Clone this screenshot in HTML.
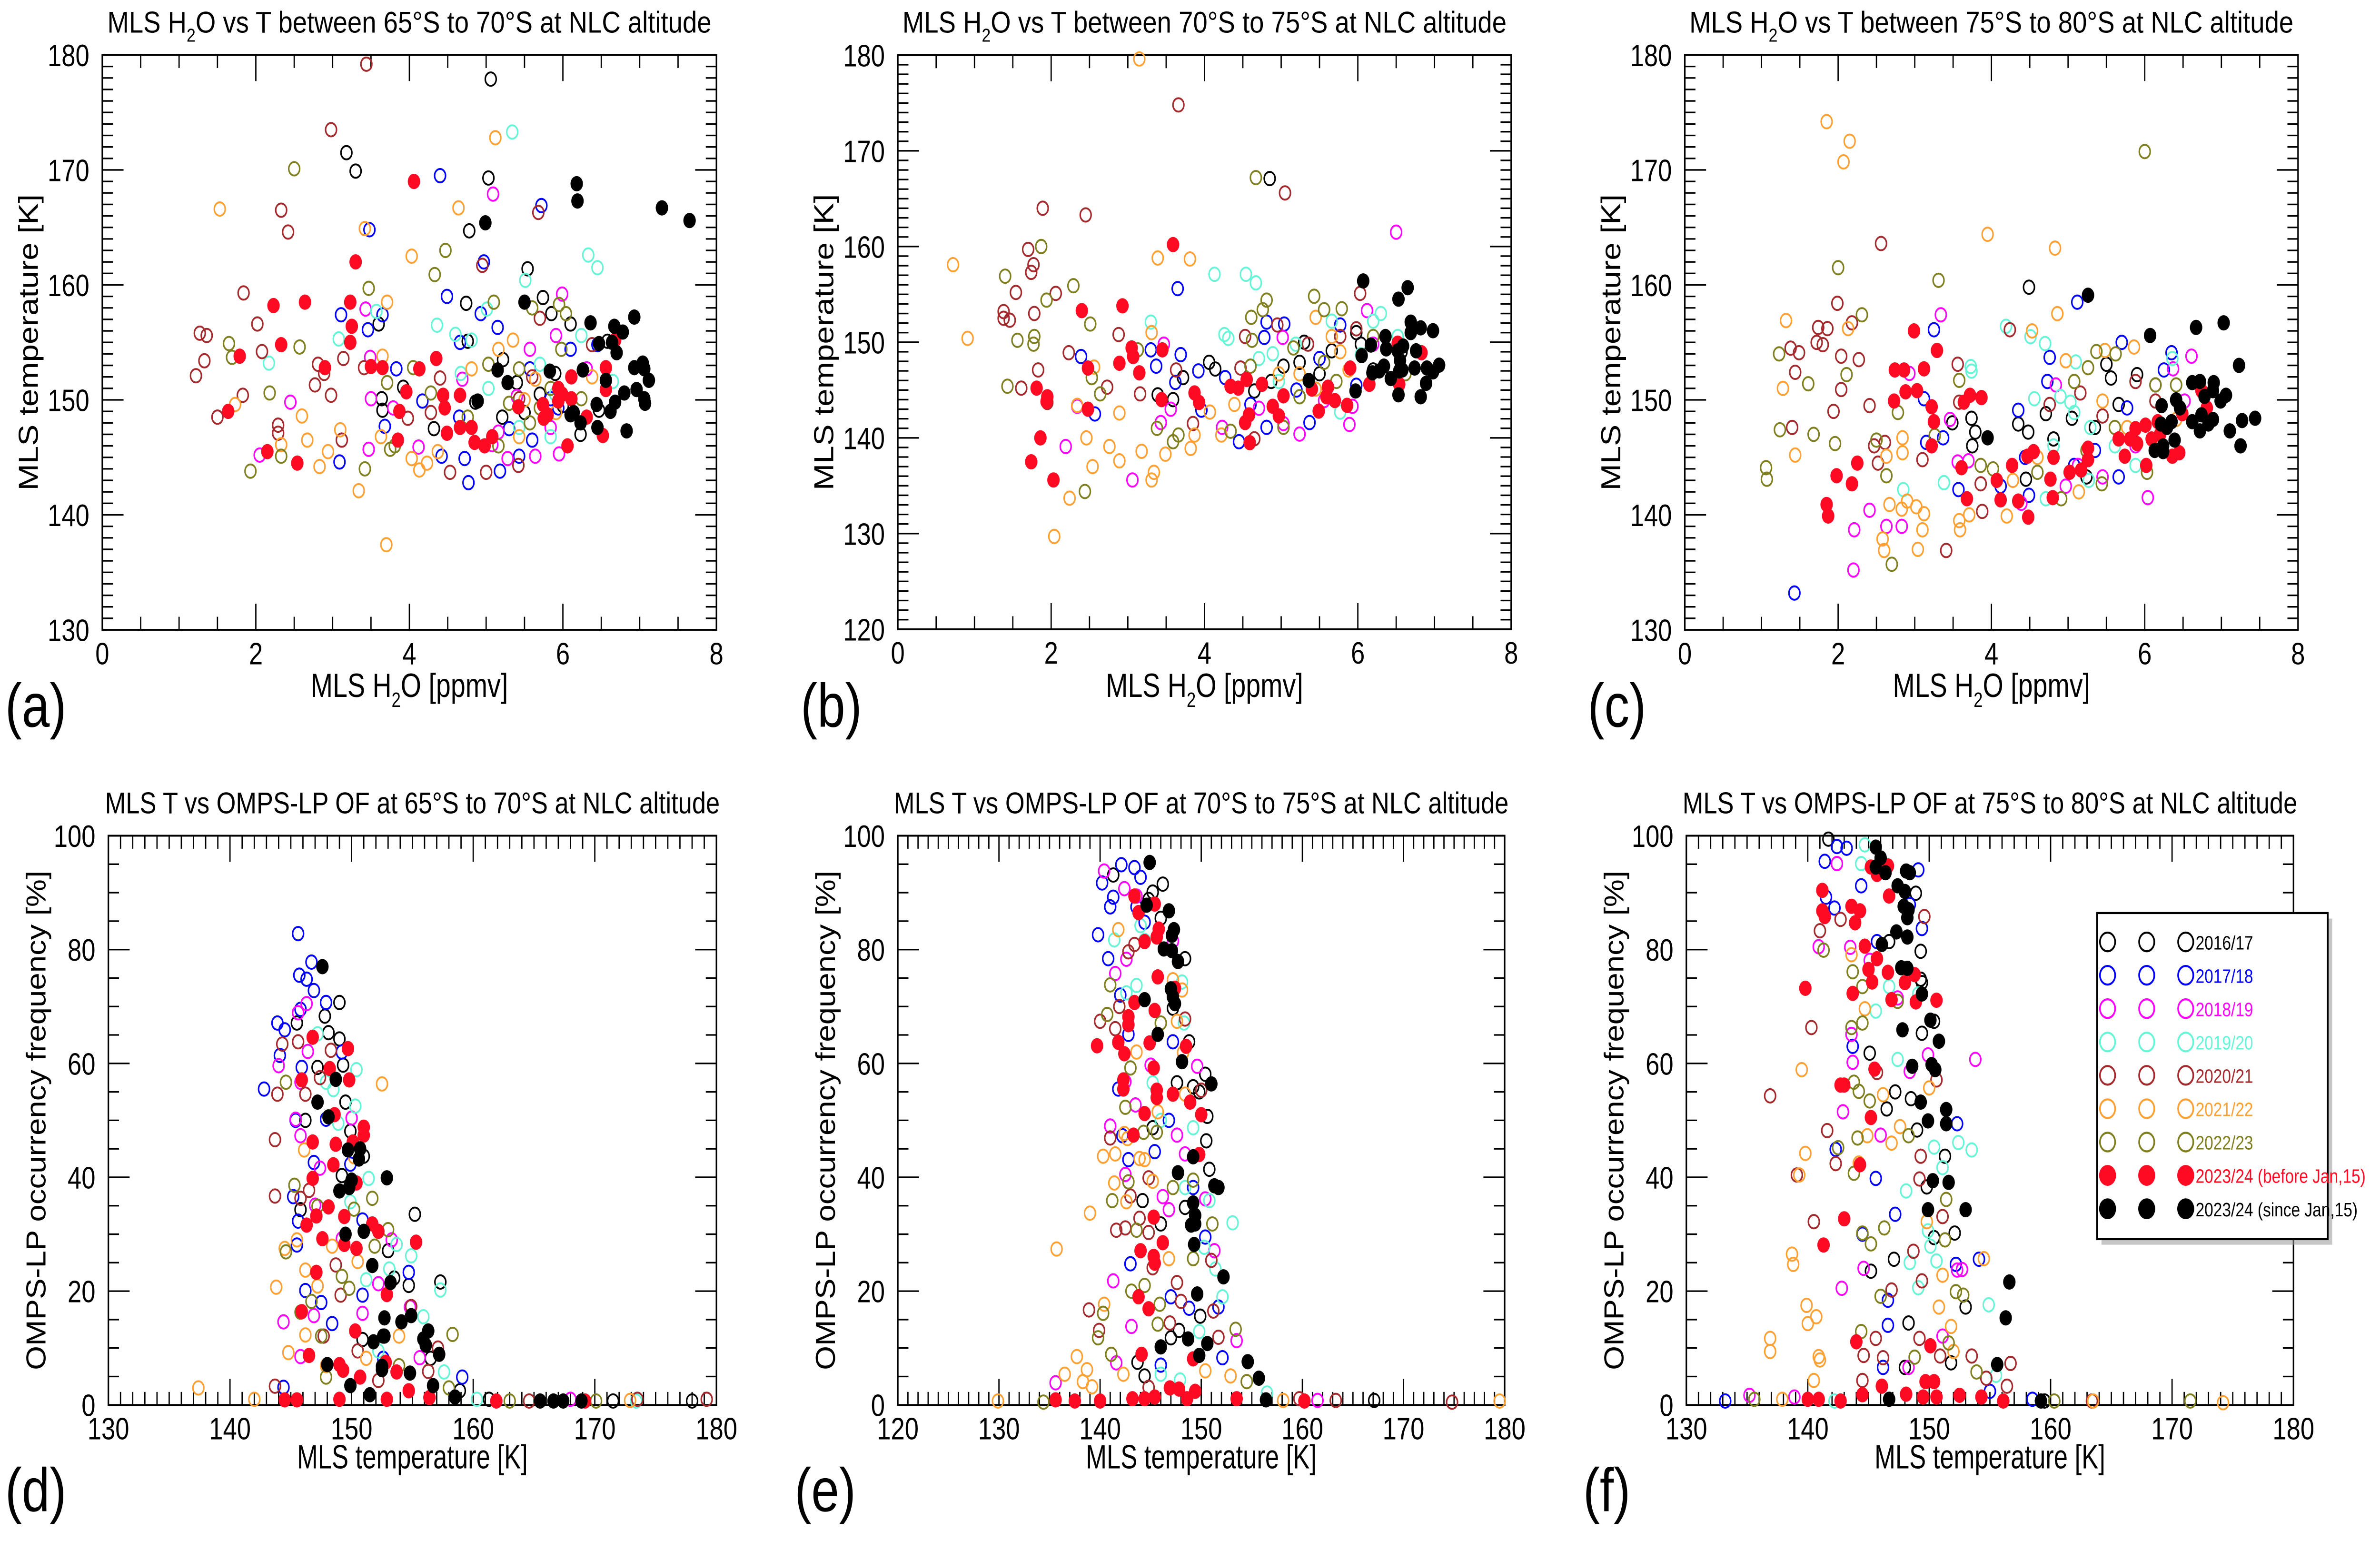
<!DOCTYPE html>
<html><head><meta charset="utf-8"><title>MLS H2O / T / OMPS-LP OF scatter</title>
<style>
html,body{margin:0;padding:0;background:#fff;overflow:hidden;width:100%;height:100%;}
svg{display:block;width:100vw;height:100vh;}
text{font-family:"Liberation Sans",Arial,sans-serif;fill:#000;}
</style></head>
<body>
<svg id="fig" xmlns="http://www.w3.org/2000/svg" viewBox="0 0 1568 827" preserveAspectRatio="none">
<rect x="0" y="0" width="1568" height="827" fill="#fff"/>
<g id="plots"></g>
<g id="legend">
  <rect x="1384.5" y="493" width="152" height="175" fill="#999" opacity="0.55"/>
  <rect x="1381.6" y="490" width="152" height="175" fill="#fff" stroke="#000" stroke-width="1.1"/>
  <g id="legend-rows"></g>
</g>
</svg>
<script>
// ---------- Panel (a): MLS H2O [ppmv] vs MLS T [K], 65-70S ----------
const a1617=[5.06,177.9,3.18,171.5,3.3,169.9,5.03,169.3,4.78,164.7,5.54,161.4,5.74,158.9,4.74,158.4,5.85,157.5,3.6,156.6,6.1,156.6,4.76,155.1,5.22,153.5,6.58,155.1,3.92,151.1,3.64,150.1,3.65,149.1,4.86,149.8,4.32,147.5,6.23,147,6.47,149.1,5.21,148.5,5.5,148.9,5.4,151.5,5.7,150.5,5.9,152.3,6.0,149.5];
const a1718=[4.4,169.5,5.72,166.9,3.48,164.8,4.97,162,4.49,159,4.93,157.5,3.11,157.4,3.65,157.4,3.46,156.1,5.15,156.3,4.66,155,3.83,152.7,4.17,149.9,3.68,147.7,3.09,144.6,4.42,145.1,4.77,142.8,4.72,144.9,5.18,143.8,4.65,148.5,5.43,145.1,5.94,149.3,5.57,152.7,6.1,154.4,5.84,150.1,6.45,154.8,5.3,147.5,5.6,146.5];
const a1819=[5.09,167.9,5.99,159.2,3.43,157.9,3.49,153.7,2.45,149.8,3.5,150.1,3.79,149.3,2.05,145.2,3.47,145.7,4.12,145.9,5.08,146.1,5.95,145.3,5.28,144.9,5.64,145.1,5.57,154.4,5.91,155.6,4.69,151.8,6.31,152.7,5.16,147.2,5.84,147.6,5.4,150.3];
const a1920=[5.34,173.3,6.33,162.6,6.45,161.5,5.51,160.4,5.01,157.9,3.57,157.7,3.08,155.3,2.17,153.2,4.6,155.7,4.36,156.5,4.81,155.2,4.67,152.3,6.24,155.6,6.65,151.6,5.7,153.1,5.43,147.6,5.84,146.8,5.03,151,5.9,150.5];
const a2021=[3.44,179.2,2.98,173.5,2.33,166.5,2.42,164.6,5.68,166.3,4.95,161.7,1.84,159.3,1.27,155.8,1.36,155.6,2.02,156.6,3.14,153.6,1.33,153.4,1.22,152.1,2.08,154.2,2.81,153.1,2.89,152.3,3.41,152.8,1.83,150.4,2.77,151.3,2.98,150.4,1.5,148.5,2.29,147.8,2.29,147.1,3.12,146.5,4.4,151.9,3.98,148.4,5.0,143.7,4.53,143.7,5.42,144.3,5.7,157.1,6.38,154.8,4.28,148.9,5.43,150.1,5.6,152];
const a2122=[1.53,166.6,5.12,172.8,4.64,166.7,3.42,164.9,4.03,162.5,3.71,158.5,3.65,153.8,4.81,152.7,1.73,149.6,2.6,148.6,2.67,146.5,2.33,146.1,3.1,147.4,2.94,145.5,2.83,144.2,3.63,146.8,4.03,144.9,4.13,143.9,4.23,144.5,3.34,142.1,3.7,137.4,4.37,145.5,5.35,155.2,5.16,154.4,5.64,151.8,5.91,148.9,6.38,152,5.43,146.8,5.5,150];
const a2223=[2.5,170.1,4.47,163,4.33,160.9,3.47,159.7,5.1,158.5,5.6,158,1.65,154.9,1.69,153.7,2.57,154.6,2.18,150.6,4.05,152.8,3.71,151.5,4.28,150.6,3.75,145.7,3.81,146,3.42,144,2.33,145.1,1.93,143.8,5.95,158.3,6.04,157.5,5.03,153.1,5.3,149.7,5.57,148,5.84,151,6.24,150.1,5.16,146,4.76,148.5,5.43,152.7,5.98,154.4,5.7,149.3];
const a2324b=[4.06,169,3.3,162,2.23,158.2,2.64,158.5,3.23,158.5,3.25,156.4,2.33,154.8,3.23,155,1.79,153.8,2.9,152.8,3.5,152.9,3.65,152.8,4.13,152.7,4.35,153.6,1.64,149,2.15,145.5,2.54,144.5,3.96,150.7,3.87,149,3.85,146.5,4.44,150.4,4.46,149.3,4.49,147.1,4.66,150.4,4.66,147.6,4.81,147.6,4.85,146.3,4.98,146,5.08,146.8,5.15,152.6,5.42,149.4,5.74,149.6,5.75,148.4,5.94,151,5.94,149.9,5.99,150.5,6.06,146,6.11,152,6.31,148.5,6.52,146.9,6.56,150.9,6.56,152.8,6.68,155.2,5.8,148.7,6.11,150.1];
const a2324s=[4.99,165.4,6.18,168.8,6.19,167.3,7.29,166.7,7.65,165.6,5.5,158.5,6.36,156.7,6.93,157.2,6.67,156.4,6.78,155.9,6.47,154.9,6.64,155,6.7,154.1,5.15,152.6,5.28,151.5,5.83,152.5,6.26,152.6,6.56,151.7,6.93,152.8,7.04,153.2,7.06,152.7,7.12,151.7,6.8,150.6,6.96,150.9,7.06,150.1,7.07,149.7,6.68,149.8,6.44,149.6,6.62,149,6.1,148.7,6.23,148,6.14,148.9,6.45,147.6,6.83,147.3,4.89,149.9];

// ---------- Panel (b): 70-75S ----------
const b1617=[4.85,167.1,4.06,147.9,4.14,147.2,3.72,146.3,3.39,144.5,3.59,144,4.65,144.9,4.87,145.9,5.03,147.5,5.24,147.9,5.66,149.1,5.98,151,6.04,149.8,6.57,149,5.5,146.7,6.2,147.1,5.3,150];
const b1718=[3.65,155.6,3.3,149.2,3.37,147.5,3.69,148.7,3.62,145.8,2.57,142.5,2.39,148.5,3.92,147,4.27,146.3,4.45,139.6,4.81,152.1,5.04,151.9,4.78,150.5,5.37,141.6,5.77,151.8,4.6,143.5,4.81,141.1,5.5,148.3,5.98,145.5,3.96,142.9,5.2,145];
const b1819=[6.5,161.5,6.12,153.3,5.02,150.5,3.47,149.8,2.19,139.1,3.06,135.6,3.43,141.6,3.56,143,5.24,140.4,5.89,141.4,5.93,143.3,4.23,141.1,4.71,143.1,5.56,143.9,6.2,149.8,5.03,141.5,2.34,143.3];
const b1920=[4.13,157.1,4.54,157.1,4.67,156.2,3.3,152.1,4.26,150.8,4.31,150.4,6.3,153,6.2,152.2,4.71,148.3,4.89,148.8,5.19,149.8,5.66,152.2,6.04,148.7,5.4,145.1,5.77,142.7,6.52,150.6,4.97,145.9,5.24,144.3];
const b2021=[3.66,174.8,5.05,165.6,1.89,164,2.45,163.3,1.7,159.7,1.77,158.1,1.74,157.3,1.54,155.2,2.06,155.1,1.38,153.2,1.38,152.5,1.46,152.3,1.78,153,2.88,150.8,2.23,148.9,1.83,147.1,1.61,145.2,1.95,143.7,2.73,145.3,3.16,144.6,3.63,147.1,4.53,150.6,6.03,155.1,4.47,147.3,3.85,141.5,4.65,139.9,4.95,151.8,5.98,151.4,5.77,150.6,5.35,149.8];
const b2122=[3.15,179.6,0.72,158.1,0.91,150.4,3.39,158.8,3.81,158.7,3.31,151,2.56,147.4,2.34,143.4,2.89,142.6,2.46,140,2.76,139.1,2.54,137,2.89,137.6,3.18,138.6,3.34,136.4,3.31,135.6,3.49,138.3,3.87,140.3,3.82,138.9,2.24,133.7,2.04,129.7,4.22,140.3,4.39,143.5,4.07,142.7,5.45,152.6,5.66,150.6,5.77,149,5.24,146.7,5.88,147.1,4.97,146.7,5.45,145.1];
const b2223=[4.67,167.2,1.87,160,1.4,156.9,2.29,155.9,1.94,154.4,2.51,151.9,1.78,150.6,1.77,149.8,1.56,150.2,1.43,145.4,2.53,146.3,2.64,144.6,2.44,134.4,3.38,141,3.59,139.6,3.66,140.3,4.81,154.4,4.76,153.4,4.61,152.6,4.62,150.2,5.43,154.8,5.56,153.4,5.79,153.5,4.6,147.5,5.16,149.4,5.56,147.9,5.72,145.9,5.24,144.3,5.03,141.1,4.34,140.7,6.2,150.6,6.62,146.7,3.13,149.2];
const b2324b=[3.59,160.2,2.93,153.8,2.4,153.3,3.05,149.4,3.07,148.5,3.45,149.2,2.89,147.8,2.48,147.3,3.15,146.8,1.81,145.2,1.95,144.3,1.94,143.8,2.48,143,1.86,140,1.74,137.5,2.03,135.6,3.44,144,3.87,144.7,3.93,143.7,4.34,145.4,4.44,145.2,4.55,146.1,4.75,145.6,4.53,141.6,4.59,139.5,4.58,142.4,4.89,143.3,4.97,142.3,5.03,144.4,5.4,145.1,5.49,142.8,5.61,145.3,5.7,143.9,5.86,143.4,5.9,147.3,6.15,145.6,6.52,149.9,6.54,145.6,6.83,148.9,5.59,144.3];
const b2324s=[6.07,156.4,6.65,155.7,6.53,154.5,6.69,152.1,6.69,151,6.82,151.5,6.98,151.2,6.36,150.6,6.17,149.7,6.37,149.3,6.52,149.1,6.59,149.6,6.76,149.1,6.05,148.6,6.55,148.1,7.06,147.6,6.9,147.3,6.74,147.3,6.98,146.9,6.54,147,6.58,147.1,6.34,147.5,6.28,147,6.19,146.8,6.43,146.2,5.36,146,5.97,144.9,6.89,145.7,6.53,144.5,6.82,144.3];

// ---------- Panel (c): 75-80S ----------
const c1617=[4.49,159.8,5.5,153.1,3.74,148.4,3.49,148,3.79,147.2,4.35,147.9,4.48,147.2,4.45,143.1,4.71,148.8,5.05,148.4,5.35,147.6,5.9,152.2,5.56,151.9,6.14,151.3,4.81,146.6,3.75,146,5.24,143.3,5.66,149.6];
const c1718=[1.43,133.2,5.12,158.5,3.25,156.1,5.7,155,4.76,153.7,6.35,154.1,4.73,151.6,3.12,150.1,3.37,146.7,3.15,146.3,4.35,149.1,3.57,142.2,4.12,142.5,4.49,141.7,5.66,143.3,6.25,152.6,5.35,145.6,5.08,144.3,5.77,149.3,4.44,145];
const c1819=[3.34,157.4,2.93,152.3,6.61,153.8,6.37,152.7,4.84,151.3,3.46,148.3,3.56,144.6,3.7,144.7,2.41,140.4,2.21,138.7,2.63,139,2.83,139,2.2,135.2,6.04,141.5,4.97,142.5,5.45,143.3,5.88,146,5.13,144.3,4.39,141,6.52,149.9];
const c1920=[4.19,156.4,4.51,155.5,4.7,154.9,3.73,152.9,3.74,152.5,5.1,153.3,4.56,150.1,4.9,150.3,5.03,149.8,6.36,153.6,2.85,142.2,3.38,142.8,4.71,141.4,5.29,147.6,5.08,148.9,4.81,146,5.61,146,5.88,144.3,5.27,143];
const c2021=[2.56,163.6,1.99,158.4,1.74,156.3,1.86,156.2,2.18,156.7,1.38,154.5,1.49,154.1,1.72,155,1.8,154.8,1.44,152.4,2.04,153.8,2.27,153.5,2.04,150.9,1.94,149,2.41,149.5,1.4,147.6,2.47,146,2.61,146.3,2.52,144.5,3.1,144.8,3.56,153.1,3.58,149.8,4.24,156.1,3.41,136.9,3.88,140.3,4.76,149.6,5.88,151.6,5.16,150.6,5.45,148.6,3.86,142.7,6.14,149.9];
const c2122=[1.85,174.2,2.15,172.5,2.07,170.7,3.95,164.4,4.83,163.2,1.32,156.9,2.13,156.2,1.28,151,4.86,157.5,4.53,156,5.86,154.6,4.97,153.4,5.48,154.3,1.44,145.2,2.84,146.7,2.84,145.4,2.63,145.1,2.67,140.9,2.83,140.5,2.9,141.2,3.02,140.7,3.12,140.1,3.1,138.7,2.58,137.9,2.6,136.9,3.04,137,3.58,139.5,3.59,138.7,3.71,140,4.2,139.9,4.28,143,5.14,142,5.45,149.9,5.77,147.6,6.41,148.3,4.6,145];
const c2223=[6,171.6,2,161.5,3.31,160.4,2.31,157.4,1.23,154,2.11,152.2,1.61,151.4,1.24,147.4,1.68,147,1.96,146.2,1.06,144.1,1.07,143.1,2.63,143.4,2.7,135.7,2.78,148.9,2.5,146.5,3.26,146.9,3.58,151.7,5.37,154.2,5.62,154,5.26,152.8,5.08,151.6,3.86,144.3,4.02,144,4.6,143.7,4.91,141.4,5.44,142.7,6.03,143.7,6.14,151.3,6.41,151.3,5.61,147.6,5.24,145.6];
const c2324b=[2.99,156,3.29,154.3,3.12,152.7,2.74,152.6,2.86,152.6,2.88,150.7,3.03,150.8,2.73,149.9,3.22,149.4,3.72,150.4,3.64,149.8,3.87,150.2,3.25,148.1,3.22,146,2.25,144.5,1.98,143.4,2.18,142.7,1.85,140.9,1.87,139.9,3.61,144.1,3.68,141.4,4.07,143,4.12,141.3,4.27,144.3,4.35,141.2,4.48,139.8,4.47,145.1,4.55,145.5,4.77,143.1,4.8,141.5,4.81,145,5.02,143.7,5.17,143.9,5.26,144.8,5.26,145.8,5.66,146.6,5.74,145.1,5.81,146.6,5.88,147.5,5.9,146.2,6.01,147.8,6.02,144.3,6.09,146.6,6.17,148.1,6.2,147,6.36,145.1,6.45,145.4,6.49,148.8,6.74,150.8,6.81,149.3];
const c2324s=[5.26,159.1,6.07,155.6,6.67,156.3,7.03,156.7,7.23,153,6.62,151.5,6.72,151.6,6.9,151.5,6.89,150.8,6.78,150.3,7.06,150.4,6.99,149.9,6.41,150,6.46,149.3,6.22,149.5,6.74,148.7,6.62,148.1,6.83,147.9,6.89,148.3,6.72,147.3,7.27,148.2,7.44,148.4,7.11,147.3,7.25,146,6.21,147.9,6.29,147.6,6.35,148.1,6.39,146.5,6.24,146,6.13,145.6,6.24,145.5,3.95,146.7];

// ---------- Panel (d): MLS T [K] vs OMPS-LP OF [%], 65-70S ----------
const d1617=[149,70.7,147.8,68.3,145.5,67.1,148.1,65.4,149,64.3,149.3,59.7,149.5,53.2,146.2,50,149.9,48.1,151,43.7,149.2,40.3,145.8,34.3,155.2,33.5,153,27.1,154.7,21,157.3,21.6,153.5,22.3,156.5,8.2,158.9,2.5,171.5,0.7,178,0.7,161.3,1,150.9,11.5,147.2,59.3,152.6,12.1];
const d1718=[145.6,82.8,146.7,77.8,145.7,75.5,146.3,74.8,146.9,72.8,147.9,70.7,145.8,69.5,143.9,67.1,144.5,65.9,144.1,61.4,145.9,59.3,142.8,55.5,145.4,50,146.9,42.6,145.2,36.6,145.6,32.3,145.5,28.1,146.2,20.1,147.5,18,148.4,14.3,154.7,23.3,159.1,4.9,144.4,3.1,150.9,32.5,149.2,62,150.9,19.3,152.6,8.2,147.9,50.2,149.9,42.3];
const d1819=[146.3,70.5,145.6,68.9,144,59.6,146.4,62.1,145.8,56.7,145.4,50.2,145.8,47.3,147.4,41.6,147,35.1,144.4,14.6,145.8,8.5,146.9,15.7,150,50.4,152.2,21.3,154.8,17.2,155.6,8.3,153.3,29,168,1,149.2,29.2,150.9,16.1];
const d1920=[147.2,65.2,150.4,58.9,150.3,52.5,148.9,49.5,151.4,39.8,153.7,28.2,154.9,26.2,153.1,23.9,157.3,20.2,155.9,15.5,157.6,5.8,160.3,1,147.9,56.7,148.5,55.4,149.9,35.7,151.2,22,152.2,9.5,173.4,0.7];
const d2021=[144.3,63.4,143.9,54.6,145.6,63.8,147.4,57.5,146.2,54.6,143.7,46.6,143.7,36.7,145.8,36.3,146.5,37.7,148.3,62.3,148.7,24.6,149.1,19.3,147.7,12.1,154.9,17.3,157.1,10,156.3,5.9,143.7,3.3,173.5,1,179.2,1,164.6,0.7,150.5,9.5,152.2,4.3];
const d2122=[152.5,56.4,146.1,44.8,143.8,20.7,146.2,23.7,147.2,20.9,144.5,27.5,145.5,29,146.2,12.3,144.8,9.2,137.4,3,142,1,150.2,43.6,150.5,25.2,148.4,27.9,153.9,12.1,172.9,0.8,147.9,6.9,151.2,8.2];
const d2223=[144.6,56.7,144.6,26.9,145.3,38.6,147.2,34.9,145.8,16.3,146.7,18.2,147.5,12.1,149.8,20.5,149.2,22.6,153,30.8,151.7,36.3,158.3,12.4,158,3,163,0.7,170.1,0.7,150.2,34.4,147.9,4.9,153.9,6.9,151.9,27.9];
const d2324b=[146.8,64.6,149.7,62.6,148.2,59.1,145.9,57.1,149.8,57.1,148.6,51,151,48.8,151,47.4,146.8,46.2,148.7,45.8,150.1,46.2,148.5,42.2,146.8,39.8,150.4,39,148.1,34.8,147.1,33.2,149.4,33.1,146.3,31.6,151.7,31.8,152.2,30.5,147.6,29.2,149.4,28.2,150.4,27.5,155.3,28.6,147.1,23.3,152.9,19.4,145.9,16.4,150.3,13,146.5,8.7,149,7.1,149.3,6.1,150.7,4.9,152.8,7.5,153.7,5.8,154.7,2.5,144.5,0.9,145.5,0.9,149,1,152.9,1,156.4,1.3,161.9,0.7,169.2,0.7];
const d2324s=[147.6,77,148.7,57.2,147.2,53.2,148.1,50.6,149.7,44.8,150.7,45,150.6,43.2,152.9,39.9,150,39.5,149.8,38.2,149,37.6,149.5,30,151,30.5,151.7,24.5,153.2,21.5,154.9,15.7,152.7,15.3,154.1,14.6,156.3,13,155.9,11.6,156.1,10.5,157.2,8.9,151.8,11.1,152.7,12.1,148,7.1,152.5,6.8,152.5,6.2,154.8,5.6,149.9,3.4,156.7,3.4,151.5,1.8,158.5,1.4,165.5,0.7,166.6,0.7,167.4,0.7,168.9,0.7];

// ---------- Panel (e): 70-75S ----------
const e1617=[141.3,93.1,146.2,91.5,145.2,90.1,144.8,88.8,146,85.5,148.4,78.4,147.2,69.7,148.8,63.8,150.4,58.1,149.2,55.9,149.8,55,150.6,50.7,150.5,46.4,150.8,41.4,144.2,35.9,146,31.8,148.4,34.7,149.9,15.6,147.8,13.1,147,11.8,143.7,7.5,144.4,5.1,167.1,0.8,145.2,48.7,147.6,56.6];
const e1718=[142.1,94.9,143.4,94.4,140.2,91.7,141.3,89.2,141,87.5,144,92.7,143.6,87.5,139.8,82.6,140.8,78.4,142,72,142.8,65.1,147.2,63.8,141.8,55.5,142.2,47.3,142.8,43.1,145.4,44.5,143,24.8,147,19,148.8,17,151.7,17.2,146,7,152.1,8.3,150.4,29.5,149.2,38.2,144.4,84.8,146.8,50];
const e1819=[140.4,93.8,142.4,90.7,143.6,89.4,147.2,81.5,141.5,75.8,142.6,78.3,142.5,56.8,145,59.7,149.6,59.5,141,49,143.5,52.7,142.5,40.5,146.2,36.6,146.8,34.3,150.4,36.2,151.3,27.1,141.3,21.8,143.1,13.8,141.6,7.4,135.6,3.9,153.5,11.3,161.5,0.8,148.4,44.1,147.6,47.4];
const e1920=[141.4,81.7,144,84.2,144.4,81.6,148.1,74.3,148.3,67.1,142.6,72.4,143.6,73.7,146,50,149.2,48.7,150.8,35.9,153.1,32,150.3,27.7,151.4,23.9,152.1,19,149.8,12.9,146,5.4,147.9,4.4,156.5,2.1,145.2,56.6,148.4,38.2];
const e2021=[140,67.4,141.9,70,141.5,66.1,142.8,79.6,143.4,80.9,141,46.9,144.8,39.9,143,36.7,141.6,30.7,142.5,31.1,143.9,32.8,144.8,30.3,145.2,24.1,147.6,21.5,148,18.2,146.9,14.4,151,25.4,151.2,16.5,151.7,11.9,138.9,16.7,139.9,13.1,144.8,3.1,159.7,1.1,163.3,0.8,174.8,0.5,150,55.3,148.4,67.8];
const e2122=[141.8,83.5,147.2,74.7,148.1,72.9,147.6,67.4,143.6,62,148.2,61.9,148.4,54.6,145.7,51.5,142.4,47.7,142.7,46.8,140.3,43.7,141.5,44.1,143.9,43.3,144.4,43.1,141.4,39,142.6,35.7,145.2,39.3,139,33.7,135.7,27.4,140.4,17.7,137.7,8.5,136.5,5.4,138.7,6.2,138.3,4.1,139.2,3.2,142.3,5.4,146.8,25.7,150.4,6,152.9,5.1,129.9,0.7,179.5,0.7,158.1,0.8];
const e2223=[140.7,68.6,141,73.8,143,59.2,142.5,52.3,144.3,47.9,145.6,47.9,142.8,39.2,141.2,35.9,143.6,30.7,144.4,21,143.1,20,145.9,17.7,145.7,14.2,140.3,16.1,139.8,11.8,141.1,8.9,153.4,13.3,151.1,31.8,149.2,25.7,149.2,39.5,154.5,4.1,134.4,0.5,147.2,38.2,146,67.1];
const e2324b=[143.4,89.4,143.8,86.5,145.4,88,145.8,83.6,145.6,82.2,144.4,81.4,145.7,75.2,147.4,73.2,143.4,70.7,145.4,69.3,142.8,68.2,142.8,66.8,139.7,63.1,141.8,63.7,142.4,61.7,144.9,63.6,148.5,63,145.3,59.2,142.3,57.1,142.3,55.5,145.6,55.3,145.6,54,147.2,54.6,148.9,53.2,144.4,51.2,150,51,143.3,47.4,149.8,44,145.3,33,146.2,28.5,144,27.1,145.3,26.1,145.4,24.9,143.8,19,144.8,16.9,144.1,8.9,149.2,8.1,149.4,2.4,146.9,3,147.8,2.8,135.6,0.9,137.5,0.7,140,0.7,143.2,1.1,144.4,1.1,145.4,1.4,148.6,1.1,153.5,1.1,160.2,0.7];
const e2324s=[144.9,95.3,144.6,87.8,146.8,86.8,147.3,83.5,147.1,82.5,146.3,80.1,147.1,79.8,147.7,77.9,147,73.1,147.2,71.7,147.4,70.5,144.4,71.2,145.7,65.1,148.1,60.3,151,56.4,149.2,43.6,147.7,40.8,151.3,38.5,151.7,38.2,149.2,35.5,149.4,33.3,149,31.6,149.4,31.8,149.3,28.2,152.2,22.5,149.6,19.5,146,10.2,148.7,11.6,150.6,10.8,149.8,8.7,154.6,7.6,155.7,4.7,156.4,0.9];

// ---------- Panel (f): 75-80S ----------
const f1617=[141.7,99.4,148.9,89.9,149.3,79.7,149.3,74.8,149.4,74.2,150.4,67.4,149.4,65.3,145.1,61.8,147.2,55,148.5,53.8,146.5,52,149,48.3,151.3,43.7,149.8,38.3,150.4,29.4,152.1,30.2,147.1,25.6,145.2,23.5,153,17.2,148.3,14.4,148,6.6,151.8,7.4,159.5,0.7,146.7,81.4];
const f1718=[142.4,98.1,143.2,97.8,141.4,95.5,149.1,94,142.2,87.3,141.5,89.2,148.4,87.9,149.4,83.7,143.7,63,142.3,44.9,145.6,39.8,147.2,33.5,144.5,30,154.1,25.6,152.2,24.7,146.6,18.4,146.6,14,146.2,6.6,152.3,49.4,133.2,0.7,155,2.4,158.5,1,145.7,81.4,144.4,91.2];
const f1819=[140.9,80.5,143.5,80.4,143.6,65.1,143.7,60.2,142.9,51.5,146,47.4,148.4,58.6,149.9,61.5,153.8,60.7,144.6,24,152.3,23.7,152.7,23.8,142.8,20.5,151.1,12.1,148.3,6.6,135.2,1.7,138.9,1.4,142.4,95.1,145.1,78.1,147.4,71.5];
const f1920=[144.7,98.4,144.4,95.1,145.6,69.2,147.4,60.7,150.4,45.3,152.4,46.1,153.5,44.8,151.1,41.7,148.1,37.6,149.9,30.6,150.1,27.9,148.4,25,150.6,25.3,149.1,20.6,154.9,17.6,155.5,5.2,142.2,0.7,146.7,73.5,149.1,72.2];
const f2021=[149.6,85.8,141,83.3,140.3,66.3,136.9,54.3,141.6,48.2,142.3,42.4,139.1,40.4,149.3,43.7,149.2,39.7,151.1,33.1,140.5,32.2,148.7,27,149.4,21.8,146.9,20.2,145.6,11.7,149.2,11.7,144.6,8.7,146.2,8.3,150.9,8.6,153.5,8.6,156.7,7.3,154.7,4.7,156.4,3.3,144.5,4.3,163.4,0.7,145.7,58.4,142.7,85.3,150.6,57.1];
const f2122=[139.5,58.9,139.8,44.2,139.3,40.4,144.2,42.5,144.9,47.3,146.2,54.5,147.6,48.9,146.9,46,150,55.7,149.8,32.2,151.1,22.8,154.5,25.7,138.7,26.5,138.8,24.7,139.9,17.5,140.7,15.5,140,14.3,136.9,11.7,136.9,9.4,140.9,8.5,141,7.9,140.5,4.3,150.8,17.2,151.8,13.8,152,9.4,143.6,79.1,144.7,69.6,137.9,1,174.2,0.4,163.5,0.7];
const f2223=[141.3,79.9,143.7,76.1,144.5,73.5,143.6,66.3,144.5,67.1,143.8,56.7,144.2,55.1,145.1,53.4,144.1,46.9,143.8,40.7,148.3,47.3,142.5,45.2,146.3,31.1,144.5,30.2,145.2,28.3,151.3,29,146,19.1,152.2,19.9,152.8,19.3,144.4,12.9,151.6,10.9,148.8,8.4,153.9,5.8,135.6,1,160.3,0.7,171.5,0.7,151.4,36.1,147.4,70.9];
const f2324b=[145.2,94.5,146.6,94.7,145.7,93.2,141.2,90.4,141.2,86.8,141.4,85.8,143.6,87.6,144.3,86.8,143.9,84.7,146.7,89.4,144.7,80.6,145.7,78.4,145,76.5,146.6,76,148.8,75.6,148,74.2,145.3,74.3,139.8,73.2,143.7,72.3,146.9,71.2,148.9,70.8,150.6,71.1,145.5,59,142.7,56.2,143,56.2,145.2,50.5,144.3,42.2,143,32.7,141.3,28.1,144,11.1,150.1,10.4,146.1,3.3,149.7,4.1,150.4,4.1,144.5,1.8,148.1,1.9,140,1,140.9,1,142.7,0.7,149.5,1.4,150.6,1.4,152.5,1.7,154.3,1.4,156.1,0.7];
const f2324s=[145.6,98,146,96.1,145.6,94.5,146.4,93.5,148.1,93.8,148.4,93.5,147.4,91.2,148,90.2,147.9,87.6,148.3,87,148.2,85.6,147.3,83.1,148.2,82.2,146.1,80.9,147.7,76.8,148.2,76.7,149.4,72.2,150.1,67.6,150.8,63.9,147.8,65.9,148.6,59.5,150.2,59.8,150.5,58.9,149.3,53.2,151.4,51.9,149.9,49.9,151.4,49.4,150.3,39.4,151.6,39.1,149.9,34.3,153,34.3,156.6,21.6,156.3,15.3,155.6,7.1,146.7,1,159.2,0.7];

// ---------- legend / series labels ----------
const seasonLabels=['2016/17','2017/18','2018/19','2019/20','2020/21','2021/22','2022/23','2023/24 (before Jan,15)','2023/24 (since Jan,15)'];
const seasonColors=['#000000','#0000ff','#ff00ff','#66f5d6','#a3292c','#ffa033','#7f7f1f','#ff0a22','#000000'];
const seasonFilled=[false,false,false,false,false,false,false,true,true];

const NS='http://www.w3.org/2000/svg';
const plots=document.getElementById('plots');

const panels=[
 {id:'a',x0:67.4,x1:472,y0:29.5,y1:338,xr:[0,8],yr:[130,180],xmaj:2,xmin:0.5,ymaj:10,ymin:1,
  title:['MLS H','2','O vs T between 65°S to 70°S at NLC altitude'],xt:['MLS H','2','O [ppmv]'],yt:'MLS temperature [K]',letter:'(a)',
  data:[a1617,a1718,a1819,a1920,a2021,a2122,a2223,a2324b,a2324s]},
 {id:'b',x0:591.5,x1:995.6,y0:29.6,y1:337.7,xr:[0,8],yr:[120,180],xmaj:2,xmin:0.5,ymaj:10,ymin:1,
  title:['MLS H','2','O vs T between 70°S to 75°S at NLC altitude'],xt:['MLS H','2','O [ppmv]'],yt:'MLS temperature [K]',letter:'(b)',
  data:[b1617,b1718,b1819,b1920,b2021,b2122,b2223,b2324b,b2324s]},
 {id:'c',x0:1110,x1:1514,y0:29.5,y1:338,xr:[0,8],yr:[130,180],xmaj:2,xmin:0.5,ymaj:10,ymin:1,
  title:['MLS H','2','O vs T between 75°S to 80°S at NLC altitude'],xt:['MLS H','2','O [ppmv]'],yt:'MLS temperature [K]',letter:'(c)',
  data:[c1617,c1718,c1819,c1920,c2021,c2122,c2223,c2324b,c2324s]},
 {id:'d',x0:71.4,x1:472,y0:448.5,y1:754,xr:[130,180],yr:[0,100],xmaj:10,xmin:1,ymaj:20,ymin:5,
  title:['MLS T vs OMPS-LP OF at 65°S to 70°S at NLC altitude'],xt:['MLS temperature [K]'],yt:'OMPS-LP occurrency frequency [%]',letter:'(d)',
  data:[d1617,d1718,d1819,d1920,d2021,d2122,d2223,d2324b,d2324s]},
 {id:'e',x0:591.5,x1:991.3,y0:448.5,y1:754,xr:[120,180],yr:[0,100],xmaj:10,xmin:1,ymaj:20,ymin:5,
  title:['MLS T vs OMPS-LP OF at 70°S to 75°S at NLC altitude'],xt:['MLS temperature [K]'],yt:'OMPS-LP occurrency frequency [%]',letter:'(e)',
  data:[e1617,e1718,e1819,e1920,e2021,e2122,e2223,e2324b,e2324s]},
 {id:'f',x0:1111,x1:1511,y0:448.5,y1:754,xr:[130,180],yr:[0,100],xmaj:10,xmin:1,ymaj:20,ymin:5,
  title:['MLS T vs OMPS-LP OF at 75°S to 80°S at NLC altitude'],xt:['MLS temperature [K]'],yt:'OMPS-LP occurrency frequency [%]',letter:'(f)',
  data:[f1617,f1718,f1819,f1920,f2021,f2122,f2223,f2324b,f2324s]}
];

function el(tag,parent){const e=document.createElementNS(NS,tag);parent.appendChild(e);return e;}

function richText(parent,parts,x,y,size,len){
  const t=el('text',parent);
  t.setAttribute('x',x);t.setAttribute('y',y);t.setAttribute('font-size',size);
  t.setAttribute('text-anchor','middle');
  if(len){t.setAttribute('textLength',len);t.setAttribute('lengthAdjust','spacingAndGlyphs');}
  if(parts.length===1){t.textContent=parts[0];}
  else{
    const s1=el('tspan',t);s1.textContent=parts[0];
    const s2=el('tspan',t);s2.textContent=parts[1];s2.setAttribute('font-size',size*0.62);s2.setAttribute('dy',size*0.3);
    const s3=el('tspan',t);s3.textContent=parts[2];s3.setAttribute('dy',-size*0.3);
  }
  return t;
}

panels.forEach(P=>{
  const g=el('g',plots);
  
  
  const sx=v=>P.x0+(v-P.xr[0])/(P.xr[1]-P.xr[0])*(P.x1-P.x0);
  const sy=v=>P.y1-(v-P.yr[0])/(P.yr[1]-P.yr[0])*(P.y1-P.y0);
  const top=P.id<'d';
  const tt=richText(g,P.title,(P.x0+P.x1)/2,top?17.5:436.5,16,top?398:405);
  
  
  const tg=el('g',g);
  
  
  tg.setAttribute('stroke','#000');tg.setAttribute('stroke-width','0.85');
  const nx=Math.round((P.xr[1]-P.xr[0])/P.xmin);
  for(let i=0;i<=nx;i++){
    const v=P.xr[0]+i*P.xmin;const X=sx(v);
    const major=Math.abs(v/P.xmaj-Math.round(v/P.xmaj))<1e-6;const L=major?14:7;
    const l1=el('line',tg);l1.setAttribute('x1',X);l1.setAttribute('x2',X);l1.setAttribute('y1',P.y1);l1.setAttribute('y2',P.y1-L);
    const l2=el('line',tg);l2.setAttribute('x1',X);l2.setAttribute('x2',X);l2.setAttribute('y1',P.y0);l2.setAttribute('y2',P.y0+L);
    if(major){
      const t=el('text',g);
      
      
      t.setAttribute('x',X);t.setAttribute('y',P.y1+18.5);t.setAttribute('font-size','16.5');t.setAttribute('text-anchor','middle');
      t.textContent=String(Math.round(v));
    }
  }
  const ny=Math.round((P.yr[1]-P.yr[0])/P.ymin);
  for(let i=0;i<=ny;i++){
    const v=P.yr[0]+i*P.ymin;const Y=sy(v);
    const major=Math.abs(v/P.ymaj-Math.round(v/P.ymaj))<1e-6;const L=major?14:7;
    const l1=el('line',tg);l1.setAttribute('x1',P.x0);l1.setAttribute('x2',P.x0+L);l1.setAttribute('y1',Y);l1.setAttribute('y2',Y);
    const l2=el('line',tg);l2.setAttribute('x1',P.x1);l2.setAttribute('x2',P.x1-L);l2.setAttribute('y1',Y);l2.setAttribute('y2',Y);
    if(major){
      const t=el('text',g);
      
      
      t.setAttribute('x',P.x0-8.5);t.setAttribute('y',Y+6);t.setAttribute('font-size','16.5');t.setAttribute('text-anchor','end');
      t.textContent=String(Math.round(v));
    }
  }
  const fr=el('rect',g);
  
  
  fr.setAttribute('x',P.x0);fr.setAttribute('y',P.y0);fr.setAttribute('width',P.x1-P.x0);fr.setAttribute('height',P.y1-P.y0);
  fr.setAttribute('fill','none');fr.setAttribute('stroke','#000');fr.setAttribute('stroke-width','1');
  const xt=richText(g,P.xt,(P.x0+P.x1)/2,top?374:788,18,top?130:152);
  
  
  const yc=(P.y0+P.y1)/2;const yx=P.x0-(top?49:48);
  const yt=el('text',g);
  
  
  yt.setAttribute('x',yx);yt.setAttribute('y',yc);yt.setAttribute('font-size','18');yt.setAttribute('text-anchor','middle');
  yt.setAttribute('transform','rotate(-90 '+yx+' '+yc+')');
  yt.setAttribute('dy','6.5');
  yt.setAttribute('textLength',top?159:268);yt.setAttribute('lengthAdjust','spacingAndGlyphs');
  yt.textContent=P.yt;
  const lt=el('text',g);
  
  
  lt.setAttribute('x',P.x0-(top?64:68));lt.setAttribute('y',top?390:811);lt.setAttribute('font-size','33');
  lt.textContent=P.letter;
  const pg=el('g',g);
  
  
  P.data.forEach((arr,si)=>{
    const sg=el('g',pg);
    
    
    for(let i=0;i<arr.length;i+=2){
      const c=el('circle',sg);
      
      
      c.setAttribute('cx',sx(arr[i]).toFixed(2));c.setAttribute('cy',sy(arr[i+1]).toFixed(2));
      if(seasonFilled[si]){c.setAttribute('r','4.1');c.setAttribute('fill',seasonColors[si]);}
      else{c.setAttribute('r','3.6');c.setAttribute('fill','none');c.setAttribute('stroke',seasonColors[si]);c.setAttribute('stroke-width','1');}
    }
  });
});

const lr=document.getElementById('legend-rows');
seasonLabels.forEach((lab,i)=>{
  const row=el('g',lr);
  
  
  const y=505.5+i*17.9;
  [1388.5,1414.3,1440].forEach(x=>{
    const c=el('ellipse',row);
    
    
    c.setAttribute('cx',x);c.setAttribute('cy',y);
    if(seasonFilled[i]){c.setAttribute('rx','5.6');c.setAttribute('ry','5.6');c.setAttribute('fill',seasonColors[i]);}
    else{c.setAttribute('rx','5');c.setAttribute('ry','5');c.setAttribute('fill','none');c.setAttribute('stroke',seasonColors[i]);c.setAttribute('stroke-width','1.1');}
  });
  const t=el('text',row);
  
  
  t.setAttribute('x','1446.5');t.setAttribute('y',y+4);t.setAttribute('font-size','10.5');
  t.setAttribute('fill',seasonColors[i]);t.style.fill=seasonColors[i];
  t.textContent=lab;
});
</script>
</body></html>
